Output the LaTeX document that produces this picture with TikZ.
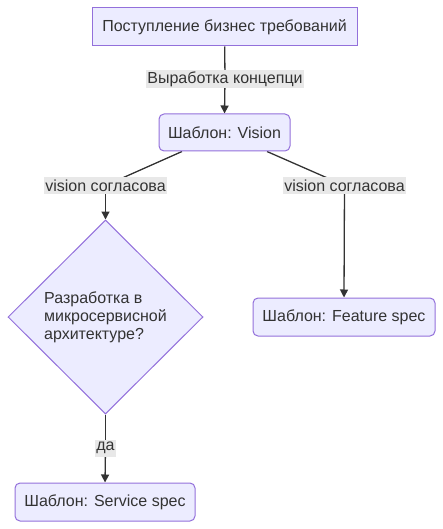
\documentclass[tikz,border=0pt]{standalone}
\usepackage{fontspec}
\setmainfont{Liberation Sans}
\usetikzlibrary{shapes.geometric,arrows.meta}
\definecolor{nodefill}{HTML}{ECECFF}
\definecolor{nodeborder}{HTML}{9370DB}
\definecolor{edgecol}{HTML}{333333}
\definecolor{lblcol}{HTML}{E8E8E8}
\definecolor{txt}{HTML}{333333}
\pgfdeclarelayer{background}
\pgfsetlayers{background,main}
\begin{document}
\begin{tikzpicture}[x=1pt,y=-1pt,
  font=\fontsize{16}{18}\selectfont,
  box/.style={draw=nodeborder, fill=nodefill, line width=1pt, text=txt, inner sep=0pt, minimum height=38pt},
  rbox/.style={box, rounded corners=5pt},
  decision/.style={diamond, draw=nodeborder, fill=nodefill, line width=1pt, text=txt, inner sep=0pt, minimum width=195pt, minimum height=194pt, align=left},
  elabel/.style={fill=lblcol, text=txt, inner sep=1pt, minimum height=17pt},
  link/.style={draw=edgecol, line width=1.3pt},
  conn/.style={link, -{Triangle[length=8pt,width=8pt]}}
]
\useasboundingbox (0,0) rectangle (443,529);
\node[box, minimum width=265pt] (start) at (224.5,27) {Поступление бизнес требований};
\node[rbox, minimum width=131pt, minimum height=37pt] (vision) at (224.5,132.5) {Шаблон: Vision};
\node[decision] (dec) at (105.5,317) {Разработка в\\микросервисной\\архитектуре?};
\node[rbox, minimum width=182pt] (feature) at (344,317) {Шаблон: Feature spec};
\node[rbox, minimum width=180pt] (service) at (105,502) {Шаблон: Service spec};

\node[elabel] (l1) at (225,79) {Выработка концепци};
\node[elabel] (l2) at (105.5,185.5) {vision согласова};
\node[elabel] (l3) at (344.5,185.5) {vision согласова};
\node[elabel] (l4) at (105.5,448) {да};

\begin{pgfonlayer}{background}
\draw[link] (start) -- (l1);
\draw[conn] (l1.center) -- (vision.north);
\draw[link] ([xshift=-42.5pt]vision.south) -- (l2.center);
\draw[conn] (l2.center) -- (dec.north);
\draw[link] ([xshift=42.5pt]vision.south) -- (l3.center);
\draw[conn] (l3.center) -- (feature.north);
\draw[link] (dec.south) -- (l4.center);
\draw[conn] (l4.center) -- (service.north);
\end{pgfonlayer}
\end{tikzpicture}
\end{document}
